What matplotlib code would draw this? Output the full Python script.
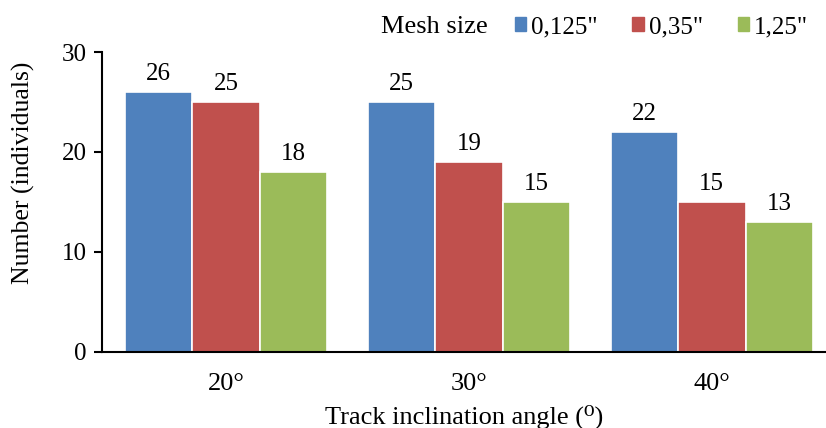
import numpy as np
import matplotlib.pyplot as plt
from matplotlib.patches import Patch

angles = ["20°", "30°", "40°"]
mesh_sizes = ['0,125"', '0,35"', '1,25"']
counts_0125 = [26, 25, 22]
counts_035 = [25, 19, 15]
counts_125 = [18, 15, 13]

colors = ["#4F81BD", "#C0504D", "#9BBB59"]

plt.rcParams["font.family"] = ["Liberation Serif", "DejaVu Serif"]

fig = plt.figure(figsize=(8.26, 4.28), dpi=100)
ax = fig.add_axes([0.1235, 0.1776, 0.8765, 0.7009])

x = np.arange(len(angles))
w = 0.278
series = [counts_0125, counts_035, counts_125]
for i, vals in enumerate(series):
    bars = ax.bar(x + (i - 1) * w, vals, w, color=colors[i],
                  edgecolor="white", linewidth=1.2, label=mesh_sizes[i])
    ax.bar_label(bars, padding=5, fontsize=18)

ax.set_xlim(-0.51, 2.47)
ax.set_ylim(0, 30)
ax.set_yticks([0, 10, 20, 30])
ax.set_xticks(x)
ax.set_xticklabels(angles)
ax.tick_params(axis="x", length=0, labelsize=19, pad=15)
ax.tick_params(axis="y", length=6, width=1.5, labelsize=18, pad=5)
ax.spines["top"].set_visible(False)
ax.spines["right"].set_visible(False)
ax.spines["left"].set_linewidth(1.5)
ax.spines["bottom"].set_linewidth(1.5)

ax.set_xlabel("Track inclination angle (⁰)", fontsize=19, labelpad=7)
ax.set_ylabel("Number (individuals)", fontsize=18.5)
ax.yaxis.set_label_coords(-0.093, 0.597)

fig.text(381 / 826, 1 - 27 / 428, "Mesh size", fontsize=19, va="center")
handles = [Patch(color=c) for c in colors]
fig.legend(handles, mesh_sizes, ncol=3, loc="center left",
           bbox_to_anchor=(502 / 826, 1 - 27 / 428), frameon=False,
           fontsize=18, handlelength=0.45, handleheight=0.45,
           handletextpad=0.2, columnspacing=1.4, borderpad=0)

fig.savefig("out.png", dpi=100)
